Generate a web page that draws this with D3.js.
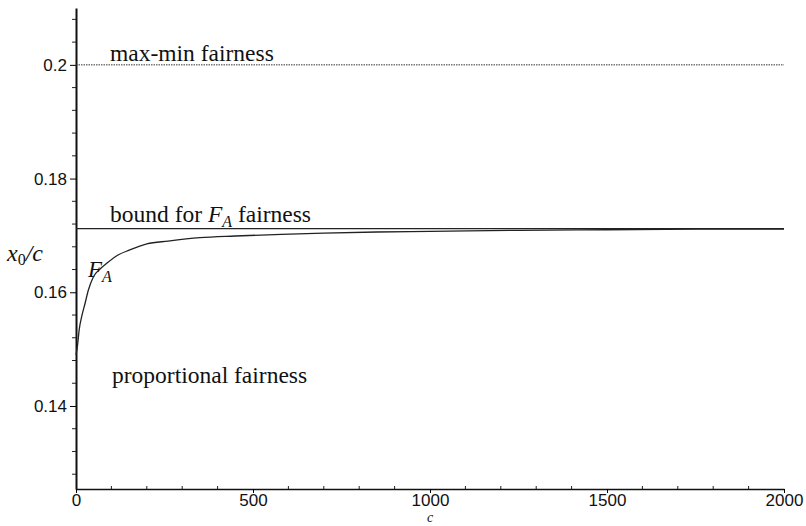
<!DOCTYPE html>
<html>
<head>
<meta charset="utf-8">
<script src="https://cdn.jsdelivr.net/npm/d3@7/dist/d3.min.js"></script>
<style>
  html, body { margin: 0; padding: 0; background: #fff; }
  svg { display: block; }
  .tick text { font-family: "Liberation Sans", Arial, sans-serif; font-size: 17px; fill: #111; }
  .lbl { font-family: "Liberation Serif", "DejaVu Serif", serif; fill: #111; }
</style>
</head>
<body>
<svg id="chart" width="806" height="526"></svg>
<script>
// Reference levels
const maxMinLevel = 0.2;
const boundLevel = 0.1712;

// F_A curve: x0/c as a function of c
const cValues = [0, 4, 9, 16, 25, 35, 49, 68, 87, 120, 150, 200, 260, 350, 450, 580, 700, 850, 1000, 1250, 1500, 1750, 2000];
const faValues = [0.1490, 0.1505, 0.1534, 0.1557, 0.1579, 0.1604, 0.1627, 0.1641, 0.1651, 0.1666, 0.1674, 0.1685, 0.1690, 0.1696, 0.1699, 0.1702, 0.1704, 0.1706, 0.1707, 0.1709, 0.1710, 0.1711, 0.1711];

// Axis ticks
const xMajorTicks = [0, 500, 1000, 1500, 2000];
const xTickLabels = ["0", "500", "1000", "1500", "2000"];
const yMajorTicks = [0.14, 0.16, 0.18, 0.2];
const yTickLabels = ["0.14", "0.16", "0.18", "0.2"];

const svg = d3.select("#chart");
const x = d3.scaleLinear().domain([0, 2000]).range([76, 784]);
const y = d3.scaleLinear().domain([0.1254, 0.2100]).range([489, 8]);

// Minor ticks
const xMinor = d3.range(0, 2001, 100).filter(v => v % 500 !== 0);
const yMinor = d3.range(0.128, 0.2095, 0.004).filter(v => !yMajorTicks.some(t => Math.abs(t - v) < 1e-6));

svg.append("g").selectAll("line").data(xMinor).join("line")
  .attr("x1", d => x(d)).attr("x2", d => x(d))
  .attr("y1", y.range()[0]).attr("y2", y.range()[0] - 3)
  .attr("stroke", "#222").attr("stroke-width", 1);

svg.append("g").selectAll("line").data(yMinor).join("line")
  .attr("x1", x.range()[0] - 4).attr("x2", x.range()[0])
  .attr("y1", d => y(d)).attr("y2", d => y(d))
  .attr("stroke", "#222").attr("stroke-width", 1);

// Axes
const xAxis = svg.append("g")
  .attr("transform", `translate(0,${y.range()[0]})`)
  .call(d3.axisBottom(x).tickValues(xMajorTicks).tickFormat((d, i) => xTickLabels[i]).tickSize(4).tickPadding(1).tickSizeOuter(0));
xAxis.select(".domain").attr("stroke", "#111").attr("stroke-width", 1.6);

const yAxis = svg.append("g")
  .attr("transform", `translate(${x.range()[0]},0)`)
  .call(d3.axisLeft(y).tickValues(yMajorTicks).tickFormat((d, i) => yTickLabels[i]).tickSize(6).tickPadding(3).tickSizeOuter(0));
yAxis.select(".domain").attr("stroke", "#111").attr("stroke-width", 2);

// Horizontal reference lines
svg.append("line")
  .attr("x1", x(0)).attr("x2", x(2000))
  .attr("y1", y(maxMinLevel)).attr("y2", y(maxMinLevel))
  .attr("stroke", "#333").attr("stroke-width", 1).attr("stroke-dasharray", "1.5,1");

svg.append("line")
  .attr("x1", x(0)).attr("x2", x(2000))
  .attr("y1", y(boundLevel)).attr("y2", y(boundLevel))
  .attr("stroke", "#222").attr("stroke-width", 1.3);

// F_A curve
const line = d3.line().x(d => x(d[0])).y(d => y(d[1])).curve(d3.curveMonotoneX);
svg.append("path")
  .datum(cValues.map((c, i) => [c, faValues[i]]))
  .attr("d", line)
  .attr("fill", "none").attr("stroke", "#222").attr("stroke-width", 1.3);

// Labels
svg.append("text").attr("class", "lbl").attr("x", 110).attr("y", 61)
  .attr("font-size", 23.5).text("max-min fairness");

const bound = svg.append("text").attr("class", "lbl").attr("x", 110).attr("y", 222).attr("font-size", 23.5);
bound.append("tspan").text("bound for ");
bound.append("tspan").attr("font-style", "italic").text("F");
bound.append("tspan").attr("font-style", "italic").attr("font-size", 16).attr("dy", 5).text("A");
bound.append("tspan").attr("dy", -5).text(" fairness");

svg.append("text").attr("class", "lbl").attr("x", 112).attr("y", 383)
  .attr("font-size", 23.5).text("proportional fairness");

const fa = svg.append("text").attr("class", "lbl").attr("x", 88).attr("y", 277).attr("font-size", 23).attr("font-style", "italic");
fa.append("tspan").text("F");
fa.append("tspan").attr("font-size", 16).attr("dy", 5).text("A");

const yl = svg.append("text").attr("class", "lbl").attr("x", 7).attr("y", 261).attr("font-size", 24).attr("font-style", "italic");
yl.append("tspan").text("x");
yl.append("tspan").attr("font-style", "normal").attr("font-size", 16).attr("dy", 4).text("0");
yl.append("tspan").attr("dy", -4).text("/c");

svg.append("text").attr("class", "lbl").attr("x", x(1000)).attr("y", 522)
  .attr("text-anchor", "middle").attr("font-size", 14).attr("font-style", "italic").text("c");
</script>
</body>
</html>
